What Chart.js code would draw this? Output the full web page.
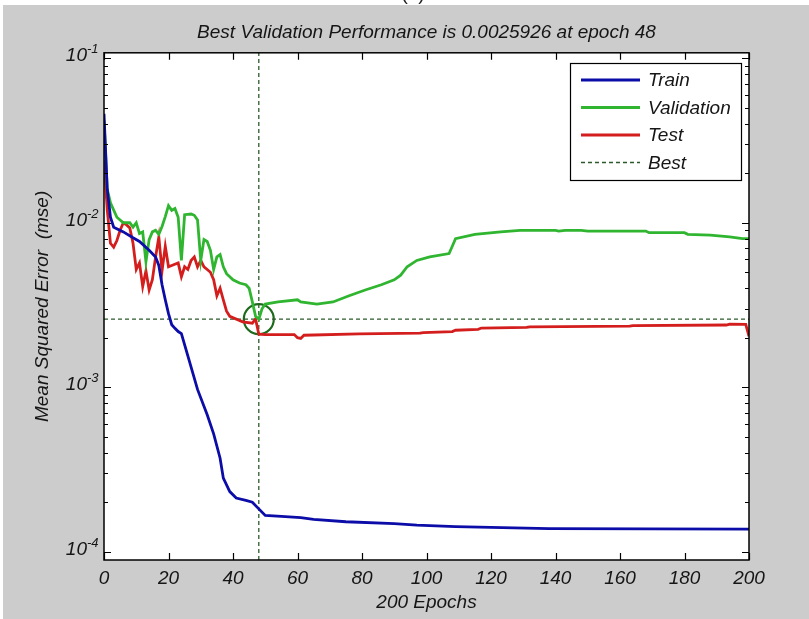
<!DOCTYPE html>
<html>
<head>
<meta charset="utf-8">
<script src="https://cdn.jsdelivr.net/npm/chart.js@4.4.1/dist/chart.umd.min.js"></script>
<style>
  html, body { margin: 0; padding: 0; background: #fff; }
  canvas { display: block; }
</style>
</head>
<body>
<canvas id="perf" width="809" height="619"></canvas>
<script>
// values (log scale, mse per epoch)
const trainEpochs = [0, 1, 2, 3, 6, 9, 11, 14, 16, 17, 18, 19, 20, 21, 22, 23, 24, 26, 29, 32, 34, 36, 37, 39, 41, 44, 46, 48, 50, 55, 61, 65, 75, 90, 97, 109, 138, 200];
const trainMse = [0.046, 0.016, 0.0108, 0.0094, 0.0088, 0.0081, 0.0077, 0.0068, 0.0062, 0.0055, 0.0042, 0.0034, 0.0028, 0.0024, 0.00228, 0.00218, 0.00212, 0.00155, 0.00097, 0.00068, 0.00052, 0.00037, 0.00028, 0.000232, 0.000212, 0.000205, 0.0002, 0.000182, 0.000166, 0.000164, 0.000161, 0.000157, 0.000152, 0.000148, 0.000145, 0.000142, 0.000138, 0.000137];

const valEpochs = [0, 1, 2, 4, 6, 8, 9, 10, 11, 12, 13, 14, 15, 16, 17, 18, 19, 20, 21, 22, 23, 24, 25, 27, 28, 29, 30, 31, 32, 33, 34, 35, 36, 37, 38, 40, 42, 44, 45, 46, 47, 48, 49, 50, 54, 60, 61, 66, 71, 76, 81, 86, 90, 92, 94, 97, 101, 107, 108, 109, 115, 123, 129, 140, 141, 143, 148, 150, 168, 169, 180, 181, 188, 194, 198, 200];
const valMse = [0.042, 0.016, 0.0132, 0.0108, 0.01, 0.01, 0.0094, 0.01, 0.0086, 0.0088, 0.0058, 0.0079, 0.0088, 0.009, 0.0085, 0.0095, 0.0109, 0.0127, 0.0119, 0.0122, 0.0108, 0.0059, 0.0112, 0.0113, 0.0111, 0.0104, 0.0059, 0.0079, 0.0077, 0.0068, 0.0052, 0.0062, 0.0064, 0.0054, 0.0049, 0.0045, 0.0043, 0.0042, 0.004, 0.0033, 0.0027, 0.0025926, 0.003, 0.0032, 0.0033, 0.0034, 0.0033, 0.0032, 0.0033, 0.0036, 0.0039, 0.0042, 0.0045, 0.0048, 0.0054, 0.0059, 0.0062, 0.0065, 0.0072, 0.008, 0.0085, 0.0088, 0.009, 0.009, 0.0089, 0.009, 0.009, 0.0089, 0.0089, 0.0087, 0.0087, 0.0085, 0.0084, 0.0082, 0.008, 0.008];

const testEpochs = [0, 1, 2, 3, 4, 5, 6, 7, 8, 9, 10, 11, 12, 13, 14, 15, 16, 17, 18, 19, 20, 21, 23, 24, 25, 26, 27, 28, 29, 30, 31, 32, 33, 34, 35, 36, 37, 38, 39, 43, 46, 47, 48, 50, 59, 60, 61, 62, 79, 98, 99, 108, 109, 116, 117, 131, 132, 163, 164, 193, 194, 199, 200];
const testMse = [0.024, 0.012, 0.0075, 0.0071, 0.0078, 0.009, 0.01, 0.0097, 0.0093, 0.0075, 0.0052, 0.0057, 0.0041, 0.0051, 0.0039, 0.0045, 0.0062, 0.0082, 0.0051, 0.0072, 0.0054, 0.0055, 0.0057, 0.0047, 0.0054, 0.0052, 0.0059, 0.0062, 0.0054, 0.0059, 0.0054, 0.0052, 0.005, 0.0045, 0.0036, 0.004, 0.0034, 0.0029, 0.0027, 0.0025, 0.00245, 0.0026, 0.0021, 0.00209, 0.00209, 0.002, 0.00198, 0.00207, 0.00211, 0.00213, 0.00215, 0.00218, 0.00222, 0.00225, 0.00229, 0.00231, 0.00233, 0.00235, 0.00237, 0.00239, 0.00242, 0.00241, 0.00204];

const bestEpoch = 48;
const bestPerf = 0.0025926;

const xMin = 0, xMax = 200, xStep = 20;
const yMin = 8.9e-5, yMax = 0.108;
const yDecades = [1e-4, 1e-3, 1e-2, 1e-1];
const yExponents = ["-4", "-3", "-2", "-1"];
const minorFactors = [2, 3, 4, 5, 6, 7, 8, 9];

const FONT = '"Liberation Sans", Arial, sans-serif';
const INK = "#161616";

function pts(xs, ys) {
    return xs.map((x, i) => ({ x, y: ys[i] }));
}

const figureBackground = {
    id: "figureBackground",
    beforeDraw(chart) {
        const { ctx, chartArea: a } = chart;
        ctx.save();
        ctx.fillStyle = "#fff";
        ctx.fillRect(0, 0, chart.width, chart.height);
        // cut-off panel label above the figure
        ctx.fillStyle = "#222";
        ctx.font = "19px " + FONT;
        ctx.textAlign = "center";
        ctx.textBaseline = "alphabetic";
        ctx.fillText("(a)", 413, 0);
        ctx.fillStyle = "#cccccc";
        ctx.fillRect(3, 5, chart.width - 3, chart.height - 5);
        ctx.fillStyle = "#fff";
        ctx.fillRect(a.left, a.top, a.right - a.left, a.bottom - a.top);
        ctx.restore();
    }
};

const matlabAxes = {
    id: "matlabAxes",
    afterDatasetsDraw(chart) {
        const { ctx, chartArea: a, scales: { x, y } } = chart;
        ctx.save();
        ctx.strokeStyle = "#000";
        ctx.lineWidth = 1.2;
        ctx.beginPath();
        for (let v = xMin; v <= xMax; v += xStep) {
            const px = Math.round(x.getPixelForValue(v)) + 0.5;
            ctx.moveTo(px, a.bottom); ctx.lineTo(px, a.bottom - 7);
            ctx.moveTo(px, a.top); ctx.lineTo(px, a.top + 7);
        }
        yDecades.forEach(d => {
            const py = Math.round(y.getPixelForValue(d)) + 0.5;
            ctx.moveTo(a.left, py); ctx.lineTo(a.left + 7, py);
            ctx.moveTo(a.right, py); ctx.lineTo(a.right - 7, py);
            minorFactors.forEach(f => {
                const v = d * f;
                if (v > yMax) return;
                const pm = Math.round(y.getPixelForValue(v)) + 0.5;
                ctx.moveTo(a.left, pm); ctx.lineTo(a.left + 4, pm);
                ctx.moveTo(a.right, pm); ctx.lineTo(a.right - 4, pm);
            });
        });
        ctx.stroke();
        ctx.lineWidth = 1.5;
        ctx.strokeRect(a.left, a.top, a.right - a.left, a.bottom - a.top);

        // y tick labels as 10^n
        ctx.fillStyle = INK;
        ctx.textBaseline = "alphabetic";
        yDecades.forEach((d, i) => {
            const cy = y.getPixelForValue(d) - 4;
            ctx.font = "italic 19px " + FONT;
            ctx.textAlign = "right";
            ctx.fillText("10", a.left - 17, cy + 7);
            ctx.font = "italic 13px " + FONT;
            ctx.textAlign = "left";
            ctx.fillText(yExponents[i], a.left - 17, cy - 1);
        });
        ctx.restore();
    },
    afterDraw(chart) {
        const { ctx } = chart;
        const bx = 570.5, by = 63.5, bw = 171, bh = 117;
        ctx.save();
        ctx.fillStyle = "#fff";
        ctx.fillRect(bx, by, bw, bh);
        ctx.strokeStyle = "#000";
        ctx.lineWidth = 1.2;
        ctx.strokeRect(bx, by, bw, bh);
        ctx.font = "italic 19px " + FONT;
        ctx.textAlign = "left";
        ctx.textBaseline = "middle";
        chart.data.datasets.slice(0, 4).forEach((ds, i) => {
            const ry = 80 + i * 27.5;
            ctx.strokeStyle = ds.borderColor;
            ctx.lineWidth = ds.borderWidth;
            ctx.setLineDash(ds.borderDash || []);
            ctx.beginPath();
            ctx.moveTo(581, ry);
            ctx.lineTo(640, ry);
            ctx.stroke();
            ctx.setLineDash([]);
            ctx.fillStyle = INK;
            ctx.fillText(ds.label, 648, ry + 1);
        });
        ctx.restore();
    }
};

new Chart(document.getElementById("perf"), {
    type: "line",
    data: {
        datasets: [
            { label: "Train", data: pts(trainEpochs, trainMse), borderColor: "#0c0ca8", borderWidth: 2.8 },
            { label: "Validation", data: pts(valEpochs, valMse), borderColor: "#2fb52f", borderWidth: 2.8 },
            { label: "Test", data: pts(testEpochs, testMse), borderColor: "#d41e1e", borderWidth: 2.8 },
            {
                label: "Best",
                data: [
                    { x: bestEpoch, y: yMin }, { x: bestEpoch, y: yMax }, { x: bestEpoch, y: null },
                    { x: xMin, y: bestPerf }, { x: xMax, y: bestPerf }
                ],
                borderColor: "#2d5a2d", borderWidth: 1.3, borderDash: [4, 3], spanGaps: false
            },
            {
                label: "Best point",
                data: [{ x: bestEpoch, y: bestPerf }],
                showLine: false, pointRadius: 15, pointBorderWidth: 2.2,
                pointBorderColor: "#1d6a1d", pointBackgroundColor: "rgba(0,0,0,0)"
            }
        ]
    },
    options: {
        responsive: false,
        animation: false,
        elements: { point: { radius: 0 }, line: { tension: 0, fill: false } },
        layout: { padding: { left: 0, right: 60, top: 0, bottom: 0 } },
        plugins: {
            legend: { display: false },
            tooltip: { enabled: false },
            title: {
                display: true,
                fullSize: false,
                text: "Best Validation Performance is 0.0025926 at epoch 48",
                color: INK,
                font: { family: FONT, size: 19, style: "italic", weight: "normal" },
                padding: { top: 21, bottom: 9 }
            }
        },
        scales: {
            x: {
                type: "linear", min: xMin, max: xMax,
                grid: { display: false, drawTicks: false },
                border: { display: false },
                ticks: { stepSize: xStep, color: INK, padding: 7, maxRotation: 0,
                    font: { family: FONT, size: 19, style: "italic" } },
                title: { display: true, text: "200 Epochs", color: INK,
                    font: { family: FONT, size: 19, style: "italic" }, padding: { top: 0, bottom: 5 } },
                afterFit(s) { s.height = 59; }
            },
            y: {
                type: "logarithmic", min: yMin, max: yMax,
                grid: { display: false, drawTicks: false },
                border: { display: false },
                ticks: { display: false },
                title: { display: true, text: "Mean Squared Error  (mse)", color: INK,
                    font: { family: FONT, size: 19, style: "italic" }, padding: { top: 31, bottom: 0 } },
                afterFit(s) { s.width = 104; }
            }
        }
    },
    plugins: [figureBackground, matlabAxes]
});
</script>
</body>
</html>
